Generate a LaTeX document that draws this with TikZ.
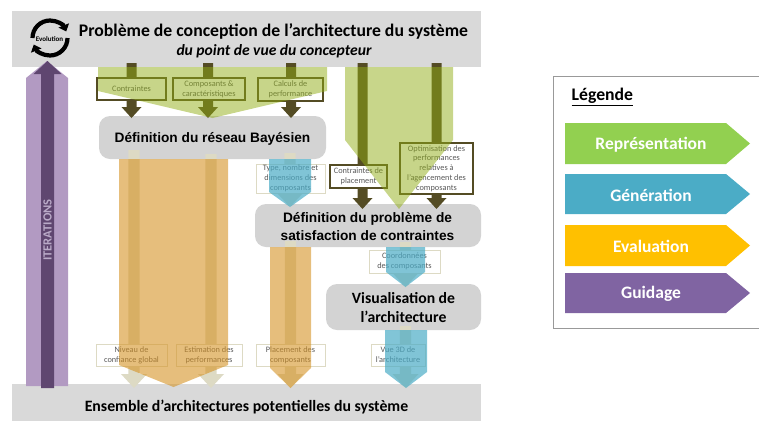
\documentclass[tikz,border=0pt]{standalone}
\usepackage{fontspec}
\setmainfont{Carlito}
\newfontfamily\arialfont{Liberation Sans}
\usetikzlibrary{arrows.meta}
\definecolor{bandgray}{HTML}{D9D9D9}
\definecolor{boxgray}{HTML}{D3D3D3}
\definecolor{darkolive}{HTML}{544C24}
\definecolor{beige}{HTML}{DDDAC4}
\definecolor{overgreen}{HTML}{91AD15}
\definecolor{overorange}{HTML}{D59325}
\definecolor{overblue}{HTML}{4BACC6}
\definecolor{iterlight}{HTML}{B29AC2}
\definecolor{iterdark}{HTML}{5F4670}
\definecolor{itertext}{HTML}{BAAAC8}
\tikzstyle{band}=[fill=bandgray,draw=none]
\tikzstyle{stepbox}=[fill=boxgray,draw=none,rounded corners=11pt]
\tikzstyle{steptext}=[align=center,text=black,inner sep=0pt,font=\bfseries\fontsize{15.7}{19}\selectfont]
\tikzstyle{arialtext}=[steptext,font=\arialfont\bfseries\fontsize{13.7}{17.5}\selectfont]
\tikzstyle{datatext}=[align=center,inner sep=0pt,text=black!65,font=\fontsize{8.3}{9.8}\selectfont]
\tikzstyle{inbox}=[datatext,fill=white,draw=darkolive,line width=1.1pt]
\tikzstyle{outbox}=[datatext,fill=white,draw=beige,line width=1pt]
\tikzstyle{greenpanel}=[fill=overgreen,opacity=.5]
\tikzstyle{orangepanel}=[fill=overorange,opacity=.6]
\tikzstyle{bluepanel}=[fill=overblue,opacity=.7]
\tikzstyle{iterpanel}=[fill=iterlight]
\tikzstyle{evoarc}=[line width=4.2pt,-{Triangle[width=11pt,length=6.5pt]}]
% x1, x2, ytop, yshoulder, ytip, style
\newcommand{\drawpanel}[6]{
\pgfmathsetmacro{\xmid}{(#1+#2)/2}
\path[#6] (#1,#3) -- (#2,#3) -- (#2,#4) -- (\xmid,#5) -- (#1,#4) -- cycle;
}
% x, ytop, yhead, ytip, half stem, half head, colour
\newcommand{\drawstem}[7]{
\fill[#7] (#1-#5,#2) -- (#1+#5,#2) -- (#1+#5,#3) -- (#1+#6,#3) -- (#1,#4) -- (#1-#6,#3) -- (#1-#5,#3) -- cycle;
}
\newcommand{\drawbox}[6]{
\node[#1,minimum width=#4pt-#3pt,minimum height=#6pt-#5pt] (#2) at ({(#3+#4)/2},{(#5+#6)/2})
}

\begin{document}
\begin{tikzpicture}[x=1pt,y=-1pt]
	\useasboundingbox (0,0) rectangle (759,421);
	% bands and grey steps
	\fill[band] (12,11) rectangle (481,67);
	\fill[band] (12,384) rectangle (481,421);
	\fill[stepbox] (99,116) rectangle (326,159);
	\fill[stepbox] (255,204) rectangle (481,247);
	\fill[stepbox] (326,284) rectangle (481,330);
	\node[inner sep=0pt,font=\bfseries\fontsize{17.7}{20}\selectfont] (title) at (273.5,31) {Problème de conception de l’architecture du système};
	\node[inner sep=0pt,font=\bfseries\itshape\fontsize{15.6}{18}\selectfont] (subtitle) at (274,51) {du point de vue du concepteur};
	\node[inner sep=0pt,font=\bfseries\fontsize{15.8}{18}\selectfont] (bottomtitle) at (246.5,407) {Ensemble d’architectures potentielles du système};
	\node[arialtext] (bayes) at (212.5,139) {Définition du réseau Bayésien};
	\node[arialtext] (csp) at (367.5,226.5) {Définition du problème de\\satisfaction de contraintes};
	\node[steptext] (visu) at (403.5,308) {Visualisation de\\l’architecture};
	% iterations arrow
	\drawpanel{26}{68}{386}{78}{61}{iterpanel}
	\drawstem{47.5}{388}{74}{61}{6.5}{14}{iterdark}
	\node[rotate=90,inner sep=0pt,text=itertext,font=\bfseries\fontsize{12.5}{14}\selectfont] (iter) at (47.5,230) {ITERATIONS};
	% evolution loop
	\draw[evoarc] (32.5,38) arc (180:22:17.5pt);
	\draw[evoarc] (67.5,38) arc (0:-158:17.5pt);
	\node[fill=bandgray,inner sep=.6pt,font=\bfseries\fontsize{7}{8}\selectfont] (evo) at (49.5,39) {Evolution};
	% dark arrows
	\foreach \x/\ytip/\yhead in {131.5/118/107,208/118/107,291/118/107,362.5/209/198,436.5/209/198} {
		\drawstem{\x}{63}{\yhead}{\ytip}{5}{10}{darkolive}
	}
	% light arrows
	\foreach \x/\ytop/\ytip in {134/150/388,211/154/388,290/153/207,290.5/241/388,405.5/242/287,405.5/326/388} {
		\pgfmathsetmacro{\yhead}{\ytip-14}
		\drawstem{\x}{\ytop}{\yhead}{\ytip}{5.7}{13}{beige}
	}
	% input boxes
	\drawbox{inbox}{contr}{97}{166}{78}{100}{Contraintes};
	\drawbox{inbox}{comp}{173}{245}{78}{100}{Composants \&\\caractéristiques};
	\drawbox{inbox}{calc}{258}{323}{78}{101}{Calculs de\\performance};
	\drawbox{inbox}{place}{330}{387}{165}{188}{Contraintes de\\placement};
	\drawbox{inbox}{optim}{400}{473}{143}{194}{Optimisation des\\performances\\relatives à\\l’agencement des\\composants};
	% output boxes
	\drawbox{outbox}{type}{256}{325}{164}{193}{Type, nombre et\\dimensions des\\composants};
	\drawbox{outbox}{coord}{369}{440}{250}{273}{Coordonnées\\des composants};
	\drawbox{outbox}{niveau}{96}{167}{344}{366}{Niveau de\\confiance global};
	\drawbox{outbox}{estim}{176}{242}{344}{366}{Estimation des\\performances};
	\drawbox{outbox}{plac}{256}{325}{344}{366}{Placement des\\composants};
	\drawbox{outbox}{vue}{371}{425}{344}{366}{Vue 3D de\\l’architecture};
	% overlays
	\drawpanel{98}{327}{67}{91}{118}{greenpanel}
	\drawpanel{345}{453}{67}{140}{209}{greenpanel}
	\drawpanel{119}{228}{159}{365}{387}{orangepanel}
	\drawpanel{270}{311}{247}{368}{388}{orangepanel}
	\drawpanel{269}{311}{159}{192}{207}{bluepanel}
	\drawpanel{386}{425}{247}{272}{287}{bluepanel}
	\drawpanel{385}{427}{330}{372}{388}{bluepanel}
	% legend
	\draw[line width=.8pt,black!40] (759,76.5) -- (553.5,76.5) -- (553.5,328) -- (759,328);
	\node[inner sep=0pt,anchor=west,font=\bfseries\fontsize{17.7}{20}\selectfont] (legend) at (571.5,97) {\underline{Légende}};
	\foreach \i/\ytop/\ybot/\clr/\txt in {1/123/164/92D050/Représentation,2/174/214/4BACC6/Génération,3/225/266/FFC000/Evaluation,4/273/313/8064A2/Guidage} {
		\definecolor{legclr}{HTML}{\clr}
		\pgfmathsetmacro{\ymid}{(\ytop+\ybot)/2}
		\pgfmathsetmacro{\ytxt}{\ymid+1}
		\fill[legclr] (565,\ytop) -- (726,\ytop) -- (750,\ymid) -- (726,\ybot) -- (565,\ybot) -- cycle;
		\node[text=white,inner sep=0pt,font=\bfseries\fontsize{17.5}{20}\selectfont] (leg\i) at (651,\ytxt) {\txt};
	}
\end{tikzpicture}
\end{document}
